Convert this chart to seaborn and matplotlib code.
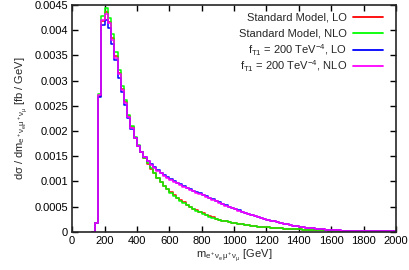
import matplotlib
matplotlib.use('Agg')
import matplotlib.pyplot as plt
from matplotlib.ticker import MultipleLocator, FuncFormatter
import pandas as pd
import seaborn as sns

# lower bin edges in GeV (20 GeV bins, last bin ends at 2000)
bin_start = list(range(120, 2000, 20))
bin_end = 2000

# dsigma/dm [fb/GeV]
sm_lo = [
    0, 0.00017, 0.00270, 0.00418, 0.00435, 0.00416, 0.00384, 0.00349, 0.00314, 0.00284,
    0.00258, 0.00229, 0.00207, 0.00187, 0.00171, 0.00158, 0.00146, 0.00135, 0.00125, 0.00116,
    0.00106, 0.00098, 0.00091, 0.00085, 0.00079, 0.00073, 0.00068, 0.00063, 0.00059, 0.00054,
    0.00050, 0.00046, 0.00043, 0.00040, 0.00037, 0.00034, 0.00031, 0.00029, 0.00026, 0.00024,
    0.00022, 0.00021, 0.00019, 0.00018, 0.00017, 0.00016, 0.00015, 0.00014, 0.00013, 0.00012,
    0.00011, 0.00010, 0.00010, 0.00009, 0.00009, 0.00008, 0.00008, 0.00007, 0.00007, 0.00006,
    0.00006, 0.00006, 0.00005, 0.00005, 0.00005, 0.00004, 0.00004, 0.00004, 0.00004, 0.00003,
    0.00003, 0.00003, 0.00003, 0.00002, 0.00002, 0.00002, 0.00002, 0.00002, 0.00002, 0.00001,
    0.00001, 0.00001, 0.00001, 0.00001, 0.00001, 0.00001, 0.00001, 0.00001, 0.00001, 0.00001,
    0.00001, 0.00001, 0.00001, 0.00001,
]
sm_nlo = [
    0, 0.00018, 0.00274, 0.00428, 0.00443, 0.00424, 0.00392, 0.00356, 0.00320, 0.00289,
    0.00262, 0.00232, 0.00209, 0.00189, 0.00172, 0.00159, 0.00147, 0.00136, 0.00126, 0.00116,
    0.00106, 0.00098, 0.00091, 0.00085, 0.00078, 0.00072, 0.00067, 0.00062, 0.00058, 0.00054,
    0.00050, 0.00046, 0.00042, 0.00039, 0.00036, 0.00033, 0.00030, 0.00028, 0.00026, 0.00024,
    0.00022, 0.00021, 0.00019, 0.00018, 0.00017, 0.00016, 0.00015, 0.00014, 0.00013, 0.00012,
    0.00011, 0.00010, 0.00010, 0.00009, 0.00009, 0.00008, 0.00008, 0.00007, 0.00007, 0.00006,
    0.00006, 0.00006, 0.00005, 0.00005, 0.00005, 0.00004, 0.00004, 0.00004, 0.00004, 0.00003,
    0.00003, 0.00003, 0.00003, 0.00002, 0.00002, 0.00002, 0.00002, 0.00002, 0.00002, 0.00001,
    0.00001, 0.00001, 0.00001, 0.00001, 0.00001, 0.00001, 0.00001, 0.00001, 0.00001, 0.00001,
    0.00001, 0.00001, 0.00001, 0.00001,
]
ft1_lo = [
    0, 0.00017, 0.00268, 0.00410, 0.00420, 0.00405, 0.00372, 0.00340, 0.00306, 0.00277,
    0.00252, 0.00226, 0.00204, 0.00186, 0.00171, 0.00159, 0.00149, 0.00141, 0.00134, 0.00128,
    0.00122, 0.00117, 0.00112, 0.00108, 0.00104, 0.00100, 0.00097, 0.00094, 0.00091, 0.00088,
    0.00085, 0.00082, 0.00079, 0.00077, 0.00074, 0.00071, 0.00068, 0.00065, 0.00062, 0.00059,
    0.00056, 0.00053, 0.00050, 0.00048, 0.00045, 0.00043, 0.00040, 0.00038, 0.00036, 0.00034,
    0.00032, 0.00030, 0.00028, 0.00026, 0.00024, 0.00022, 0.00021, 0.00019, 0.00018, 0.00016,
    0.00015, 0.00013, 0.00012, 0.00011, 0.00010, 0.00009, 0.00008, 0.00007, 0.00007, 0.00006,
    0.00005, 0.00005, 0.00004, 0.00004, 0.00003, 0.00003, 0.00003, 0.00002, 0.00002, 0.00002,
    0.00002, 0.00002, 0.00001, 0.00001, 0.00001, 0.00001, 0.00001, 0.00001, 0.00001, 0.00001,
    0.00001, 0.00001, 0.00001, 0.00001,
]
ft1_nlo = [
    0, 0.00018, 0.00272, 0.00420, 0.00432, 0.00414, 0.00380, 0.00345, 0.00312, 0.00281,
    0.00255, 0.00228, 0.00205, 0.00186, 0.00170, 0.00158, 0.00148, 0.00140, 0.00133, 0.00127,
    0.00121, 0.00116, 0.00111, 0.00107, 0.00103, 0.00099, 0.00096, 0.00093, 0.00090, 0.00087,
    0.00084, 0.00081, 0.00078, 0.00076, 0.00073, 0.00070, 0.00067, 0.00064, 0.00061, 0.00058,
    0.00055, 0.00052, 0.00050, 0.00047, 0.00045, 0.00042, 0.00040, 0.00038, 0.00036, 0.00034,
    0.00032, 0.00030, 0.00028, 0.00026, 0.00024, 0.00022, 0.00021, 0.00019, 0.00018, 0.00016,
    0.00015, 0.00013, 0.00012, 0.00011, 0.00010, 0.00009, 0.00008, 0.00007, 0.00007, 0.00006,
    0.00005, 0.00005, 0.00004, 0.00004, 0.00003, 0.00003, 0.00003, 0.00002, 0.00002, 0.00002,
    0.00002, 0.00002, 0.00001, 0.00001, 0.00001, 0.00001, 0.00001, 0.00001, 0.00001, 0.00001,
    0.00001, 0.00001, 0.00001, 0.00001,
]

labels = [
    'Standard Model, LO',
    'Standard Model, NLO',
    r'f$_{\mathrm{T1}}$ = 200 TeV$^{-4}$, LO',
    r'f$_{\mathrm{T1}}$ = 200 TeV$^{-4}$, NLO',
]
colors = ['#ff0000', '#00ff00', '#0000ff', '#ff00ff']
series = [sm_lo, sm_nlo, ft1_lo, ft1_nlo]

# long table, last value repeated at the closing edge so the step reaches 2000
rows = []
for lab, vals in zip(labels, series):
    xs = bin_start + [bin_end]
    ys = vals + [vals[-1]]
    for x, y in zip(xs, ys):
        rows.append({'mass': x, 'xsec': y, 'sample': lab})
df = pd.DataFrame(rows)

sns.set_style('ticks')
plt.rcParams['font.family'] = ['Liberation Sans', 'DejaVu Sans']
plt.rcParams['mathtext.fontset'] = 'custom'
plt.rcParams['mathtext.rm'] = 'Liberation Sans'
plt.rcParams['mathtext.it'] = 'Liberation Sans'
plt.rcParams['mathtext.bf'] = 'Liberation Sans:bold'

fig = plt.figure(figsize=(4.1, 2.7), dpi=100)
ax = fig.add_axes([0.176, 0.141, 0.790, 0.841])

sns.lineplot(data=df, x='mass', y='xsec', hue='sample', hue_order=labels,
             palette=dict(zip(labels, colors)), drawstyle='steps-post',
             linewidth=1.1, legend=False, ax=ax, sort=True)

ax.set_xlim(0, 2000)
ax.set_ylim(0, 0.0045)
ax.xaxis.set_major_locator(MultipleLocator(200))
ax.yaxis.set_major_locator(MultipleLocator(0.0005))
ax.yaxis.set_major_formatter(FuncFormatter(lambda v, p: '%g' % round(v, 6)))
ax.tick_params(direction='in', top=True, right=True, length=4, width=1,
               labelsize=8, pad=3, colors='black')
for s in ax.spines.values():
    s.set_linewidth(1.2)

ax.set_xlabel(r'm$_{\mathrm{e^+\nu_e\mu^+\nu_\mu}}$ [GeV]', fontsize=8, labelpad=1)
ax.set_ylabel(r'd$\sigma$ / dm$_{\mathrm{e^+\nu_e\mu^+\nu_\mu}}$ [fb / GeV]', fontsize=8, labelpad=3)

# gnuplot style key: text right-aligned, sample line to its right, even row spacing
key_top = 0.946
key_step = 0.072
for i, (lab, c) in enumerate(zip(labels, colors)):
    ky = key_top - i * key_step
    ax.text(0.848, ky, lab, transform=ax.transAxes, ha='right', va='center', fontsize=8)
    ax.plot([0.867, 0.960], [ky, ky], transform=ax.transAxes, color=c, linewidth=1.3)

fig.savefig('out.png', dpi=100)
